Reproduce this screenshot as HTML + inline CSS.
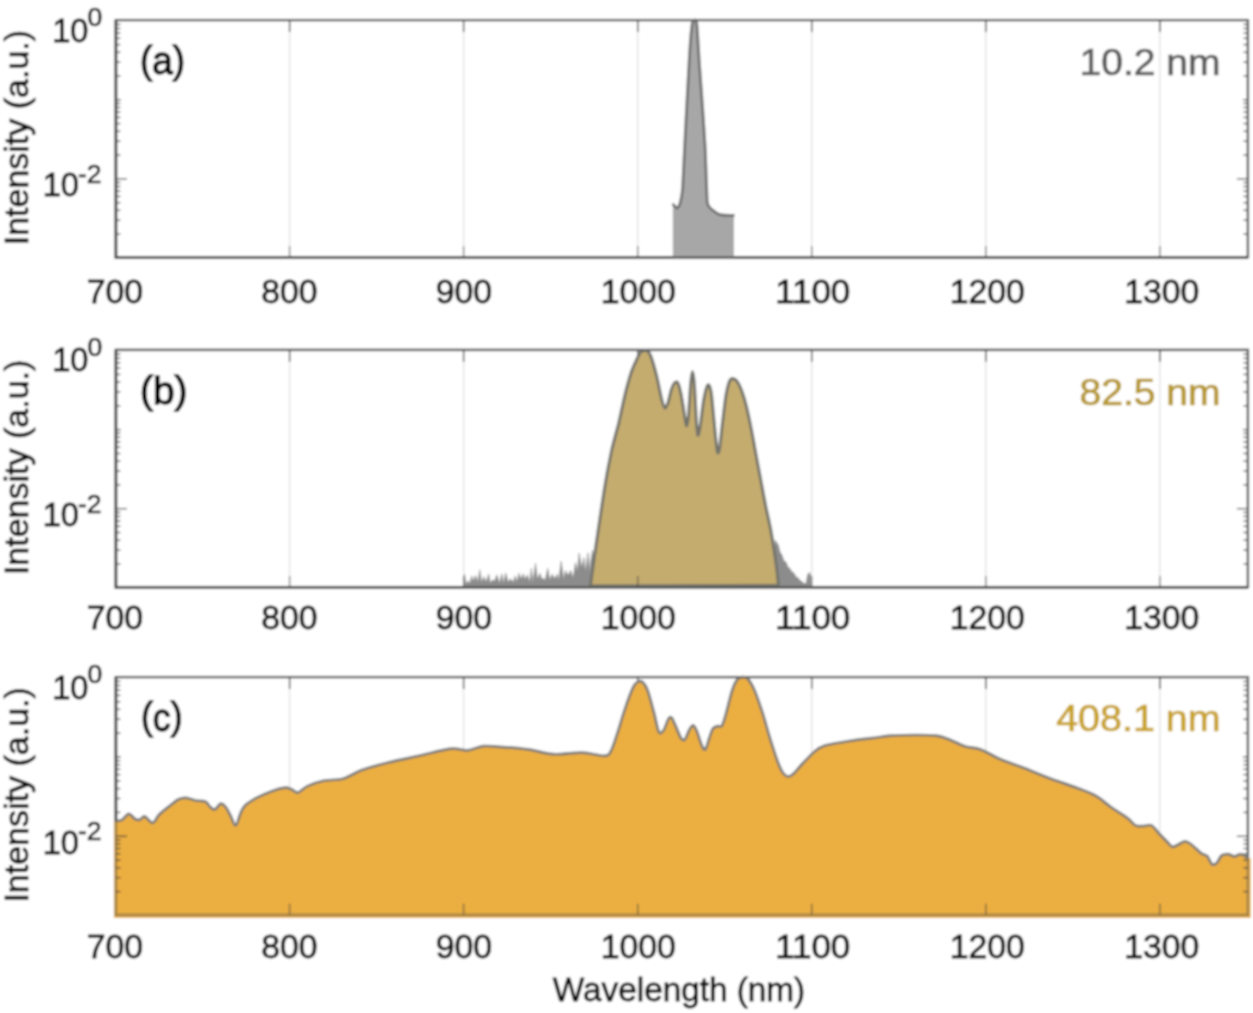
<!DOCTYPE html>
<html lang="en"><head><meta charset="utf-8"><title>Spectra</title>
<style>html,body{margin:0;padding:0;background:#fff}svg{display:block}text{font-family:"Liberation Sans", sans-serif}</style>
</head><body>
<svg width="1253" height="1013" viewBox="0 0 1253 1013">
<defs><filter id="soft" x="0" y="0" width="1253" height="1013" filterUnits="userSpaceOnUse"><feGaussianBlur stdDeviation="1.0"/></filter></defs>
<rect width="1253" height="1013" fill="#fff"/>
<g filter="url(#soft)">
<rect width="1253" height="1013" fill="#fff"/>
<line x1="289.6" y1="20.0" x2="289.6" y2="257.1" stroke="#e0e0e0" stroke-width="1.3"/>
<line x1="289.6" y1="20.0" x2="289.6" y2="32.0" stroke="#404040" stroke-width="1.4"/>
<line x1="463.6" y1="20.0" x2="463.6" y2="257.1" stroke="#e0e0e0" stroke-width="1.3"/>
<line x1="463.6" y1="20.0" x2="463.6" y2="32.0" stroke="#404040" stroke-width="1.4"/>
<line x1="637.7" y1="20.0" x2="637.7" y2="257.1" stroke="#e0e0e0" stroke-width="1.3"/>
<line x1="637.7" y1="20.0" x2="637.7" y2="32.0" stroke="#404040" stroke-width="1.4"/>
<line x1="811.7" y1="20.0" x2="811.7" y2="257.1" stroke="#e0e0e0" stroke-width="1.3"/>
<line x1="811.7" y1="20.0" x2="811.7" y2="32.0" stroke="#404040" stroke-width="1.4"/>
<line x1="985.8" y1="20.0" x2="985.8" y2="257.1" stroke="#e0e0e0" stroke-width="1.3"/>
<line x1="985.8" y1="20.0" x2="985.8" y2="32.0" stroke="#404040" stroke-width="1.4"/>
<line x1="1159.9" y1="20.0" x2="1159.9" y2="257.1" stroke="#e0e0e0" stroke-width="1.3"/>
<line x1="1159.9" y1="20.0" x2="1159.9" y2="32.0" stroke="#404040" stroke-width="1.4"/>
<rect x="115.9" y="20.0" width="1132.0" height="237.1" fill="none" stroke="#404040" stroke-width="2"/>
<path d="M115.9,20.0 L115.9,257.5 L1247.9,257.5" fill="none" stroke="#303030" stroke-width="2.7" stroke-linejoin="miter"/>
<path d="M673.3,256.8 L673.3,204.6 L675.0,206.6 L676.9,208.2 L678.8,206.2 L680.4,202.0 L681.6,196.0 L682.6,188.0 L684.0,160.0 L686.7,106.7 L689.6,53.3 L692.2,24.0 L694.5,20.2 L696.8,24.0 L699.6,66.7 L702.5,106.7 L705.1,146.7 L706.6,186.7 L707.4,203.0 L709.7,207.5 L713.3,210.6 L717.7,213.7 L722.2,215.0 L733.4,215.5 L733.4,256.8 Z" fill="#a7a7a7" stroke="#9a9a9a" stroke-width="0.8"/>
<path d="M673.3,204.6 C673.5,204.8 674.6,206.2 675.0,206.6 C675.4,207.0 676.5,208.2 676.9,208.2 C677.3,208.2 678.4,206.9 678.8,206.2 C679.2,205.5 680.1,203.2 680.4,202.0 C680.7,200.8 681.3,197.6 681.6,196.0 C681.9,194.4 682.3,192.2 682.6,188.0 C682.9,183.8 683.5,169.5 684.0,160.0 C684.5,150.5 686.0,119.1 686.7,106.7 C687.4,94.3 689.0,62.9 689.6,53.3 C690.2,43.7 691.6,27.9 692.2,24.0 C692.8,20.1 694.0,20.2 694.5,20.2 C695.0,20.2 696.2,18.6 696.8,24.0 C697.4,29.4 698.9,57.1 699.6,66.7 C700.3,76.3 701.9,97.4 702.5,106.7 C703.1,116.0 704.6,137.4 705.1,146.7 C705.6,156.0 706.3,180.1 706.6,186.7 C706.9,193.3 707.0,200.6 707.4,203.0 C707.8,205.4 709.0,206.6 709.7,207.5 C710.4,208.4 712.4,209.9 713.3,210.6 C714.2,211.3 716.7,213.2 717.7,213.7 C718.7,214.2 720.4,214.8 722.2,215.0 C724.0,215.2 732.1,215.4 733.4,215.5" fill="none" stroke="#707070" stroke-width="2.8" stroke-linejoin="round" stroke-linecap="round"/>
<line x1="289.6" y1="257.1" x2="289.6" y2="246.1" stroke="#404040" stroke-width="1.4" stroke-opacity="0.65"/>
<line x1="463.6" y1="257.1" x2="463.6" y2="246.1" stroke="#404040" stroke-width="1.4" stroke-opacity="0.65"/>
<line x1="637.7" y1="257.1" x2="637.7" y2="246.1" stroke="#404040" stroke-width="1.4" stroke-opacity="0.65"/>
<line x1="811.7" y1="257.1" x2="811.7" y2="246.1" stroke="#404040" stroke-width="1.4" stroke-opacity="0.65"/>
<line x1="985.8" y1="257.1" x2="985.8" y2="246.1" stroke="#404040" stroke-width="1.4" stroke-opacity="0.65"/>
<line x1="1159.9" y1="257.1" x2="1159.9" y2="246.1" stroke="#404040" stroke-width="1.4" stroke-opacity="0.65"/>
<line x1="115.9" y1="234.1" x2="120.4" y2="234.1" stroke="#404040" stroke-width="1.5" stroke-opacity="0.75"/>
<line x1="1247.9" y1="234.1" x2="1243.4" y2="234.1" stroke="#404040" stroke-width="1.5" stroke-opacity="0.75"/>
<line x1="115.9" y1="220.2" x2="120.4" y2="220.2" stroke="#404040" stroke-width="1.5" stroke-opacity="0.75"/>
<line x1="1247.9" y1="220.2" x2="1243.4" y2="220.2" stroke="#404040" stroke-width="1.5" stroke-opacity="0.75"/>
<line x1="115.9" y1="210.3" x2="120.4" y2="210.3" stroke="#404040" stroke-width="1.5" stroke-opacity="0.75"/>
<line x1="1247.9" y1="210.3" x2="1243.4" y2="210.3" stroke="#404040" stroke-width="1.5" stroke-opacity="0.75"/>
<line x1="115.9" y1="202.7" x2="120.4" y2="202.7" stroke="#404040" stroke-width="1.5" stroke-opacity="0.75"/>
<line x1="1247.9" y1="202.7" x2="1243.4" y2="202.7" stroke="#404040" stroke-width="1.5" stroke-opacity="0.75"/>
<line x1="115.9" y1="196.4" x2="120.4" y2="196.4" stroke="#404040" stroke-width="1.5" stroke-opacity="0.75"/>
<line x1="1247.9" y1="196.4" x2="1243.4" y2="196.4" stroke="#404040" stroke-width="1.5" stroke-opacity="0.75"/>
<line x1="115.9" y1="191.1" x2="120.4" y2="191.1" stroke="#404040" stroke-width="1.5" stroke-opacity="0.75"/>
<line x1="1247.9" y1="191.1" x2="1243.4" y2="191.1" stroke="#404040" stroke-width="1.5" stroke-opacity="0.75"/>
<line x1="115.9" y1="186.5" x2="120.4" y2="186.5" stroke="#404040" stroke-width="1.5" stroke-opacity="0.75"/>
<line x1="1247.9" y1="186.5" x2="1243.4" y2="186.5" stroke="#404040" stroke-width="1.5" stroke-opacity="0.75"/>
<line x1="115.9" y1="182.5" x2="120.4" y2="182.5" stroke="#404040" stroke-width="1.5" stroke-opacity="0.75"/>
<line x1="1247.9" y1="182.5" x2="1243.4" y2="182.5" stroke="#404040" stroke-width="1.5" stroke-opacity="0.75"/>
<line x1="115.9" y1="178.9" x2="126.9" y2="178.9" stroke="#404040" stroke-width="1.5" stroke-opacity="0.75"/>
<line x1="1247.9" y1="178.9" x2="1236.9" y2="178.9" stroke="#404040" stroke-width="1.5" stroke-opacity="0.75"/>
<line x1="115.9" y1="155.1" x2="120.4" y2="155.1" stroke="#404040" stroke-width="1.5" stroke-opacity="0.75"/>
<line x1="1247.9" y1="155.1" x2="1243.4" y2="155.1" stroke="#404040" stroke-width="1.5" stroke-opacity="0.75"/>
<line x1="115.9" y1="141.2" x2="120.4" y2="141.2" stroke="#404040" stroke-width="1.5" stroke-opacity="0.75"/>
<line x1="1247.9" y1="141.2" x2="1243.4" y2="141.2" stroke="#404040" stroke-width="1.5" stroke-opacity="0.75"/>
<line x1="115.9" y1="131.3" x2="120.4" y2="131.3" stroke="#404040" stroke-width="1.5" stroke-opacity="0.75"/>
<line x1="1247.9" y1="131.3" x2="1243.4" y2="131.3" stroke="#404040" stroke-width="1.5" stroke-opacity="0.75"/>
<line x1="115.9" y1="123.6" x2="120.4" y2="123.6" stroke="#404040" stroke-width="1.5" stroke-opacity="0.75"/>
<line x1="1247.9" y1="123.6" x2="1243.4" y2="123.6" stroke="#404040" stroke-width="1.5" stroke-opacity="0.75"/>
<line x1="115.9" y1="117.4" x2="120.4" y2="117.4" stroke="#404040" stroke-width="1.5" stroke-opacity="0.75"/>
<line x1="1247.9" y1="117.4" x2="1243.4" y2="117.4" stroke="#404040" stroke-width="1.5" stroke-opacity="0.75"/>
<line x1="115.9" y1="112.1" x2="120.4" y2="112.1" stroke="#404040" stroke-width="1.5" stroke-opacity="0.75"/>
<line x1="1247.9" y1="112.1" x2="1243.4" y2="112.1" stroke="#404040" stroke-width="1.5" stroke-opacity="0.75"/>
<line x1="115.9" y1="107.5" x2="120.4" y2="107.5" stroke="#404040" stroke-width="1.5" stroke-opacity="0.75"/>
<line x1="1247.9" y1="107.5" x2="1243.4" y2="107.5" stroke="#404040" stroke-width="1.5" stroke-opacity="0.75"/>
<line x1="115.9" y1="103.4" x2="120.4" y2="103.4" stroke="#404040" stroke-width="1.5" stroke-opacity="0.75"/>
<line x1="1247.9" y1="103.4" x2="1243.4" y2="103.4" stroke="#404040" stroke-width="1.5" stroke-opacity="0.75"/>
<line x1="115.9" y1="99.8" x2="120.9" y2="99.8" stroke="#404040" stroke-width="1.5" stroke-opacity="0.75"/>
<line x1="1247.9" y1="99.8" x2="1242.9" y2="99.8" stroke="#404040" stroke-width="1.5" stroke-opacity="0.75"/>
<line x1="115.9" y1="76.0" x2="120.4" y2="76.0" stroke="#404040" stroke-width="1.5" stroke-opacity="0.75"/>
<line x1="1247.9" y1="76.0" x2="1243.4" y2="76.0" stroke="#404040" stroke-width="1.5" stroke-opacity="0.75"/>
<line x1="115.9" y1="62.1" x2="120.4" y2="62.1" stroke="#404040" stroke-width="1.5" stroke-opacity="0.75"/>
<line x1="1247.9" y1="62.1" x2="1243.4" y2="62.1" stroke="#404040" stroke-width="1.5" stroke-opacity="0.75"/>
<line x1="115.9" y1="52.3" x2="120.4" y2="52.3" stroke="#404040" stroke-width="1.5" stroke-opacity="0.75"/>
<line x1="1247.9" y1="52.3" x2="1243.4" y2="52.3" stroke="#404040" stroke-width="1.5" stroke-opacity="0.75"/>
<line x1="115.9" y1="44.6" x2="120.4" y2="44.6" stroke="#404040" stroke-width="1.5" stroke-opacity="0.75"/>
<line x1="1247.9" y1="44.6" x2="1243.4" y2="44.6" stroke="#404040" stroke-width="1.5" stroke-opacity="0.75"/>
<line x1="115.9" y1="38.3" x2="120.4" y2="38.3" stroke="#404040" stroke-width="1.5" stroke-opacity="0.75"/>
<line x1="1247.9" y1="38.3" x2="1243.4" y2="38.3" stroke="#404040" stroke-width="1.5" stroke-opacity="0.75"/>
<line x1="115.9" y1="33.0" x2="120.4" y2="33.0" stroke="#404040" stroke-width="1.5" stroke-opacity="0.75"/>
<line x1="1247.9" y1="33.0" x2="1243.4" y2="33.0" stroke="#404040" stroke-width="1.5" stroke-opacity="0.75"/>
<line x1="115.9" y1="28.5" x2="120.4" y2="28.5" stroke="#404040" stroke-width="1.5" stroke-opacity="0.75"/>
<line x1="1247.9" y1="28.5" x2="1243.4" y2="28.5" stroke="#404040" stroke-width="1.5" stroke-opacity="0.75"/>
<line x1="115.9" y1="24.4" x2="120.4" y2="24.4" stroke="#404040" stroke-width="1.5" stroke-opacity="0.75"/>
<line x1="1247.9" y1="24.4" x2="1243.4" y2="24.4" stroke="#404040" stroke-width="1.5" stroke-opacity="0.75"/>
<rect x="115.9" y="20.2" width="1132.0" height="237.1" fill="none" stroke="#5a5a5a" stroke-width="2.6" stroke-opacity="0.5"/>
<text x="86.7" y="303.1" font-size="32.6" textLength="56.3" lengthAdjust="spacingAndGlyphs" fill="#0a0a0a" stroke="#0a0a0a" stroke-width="0.85">700</text>
<text x="261.2" y="303.1" font-size="32.6" textLength="56.3" lengthAdjust="spacingAndGlyphs" fill="#0a0a0a" stroke="#0a0a0a" stroke-width="0.85">800</text>
<text x="435.7" y="303.1" font-size="32.6" textLength="56.3" lengthAdjust="spacingAndGlyphs" fill="#0a0a0a" stroke="#0a0a0a" stroke-width="0.85">900</text>
<text x="600.7" y="303.1" font-size="32.6" textLength="75.1" lengthAdjust="spacingAndGlyphs" fill="#0a0a0a" stroke="#0a0a0a" stroke-width="0.85">1000</text>
<text x="775.2" y="303.1" font-size="32.6" textLength="75.1" lengthAdjust="spacingAndGlyphs" fill="#0a0a0a" stroke="#0a0a0a" stroke-width="0.85">1100</text>
<text x="949.7" y="303.1" font-size="32.6" textLength="75.1" lengthAdjust="spacingAndGlyphs" fill="#0a0a0a" stroke="#0a0a0a" stroke-width="0.85">1200</text>
<text x="1124.2" y="303.1" font-size="32.6" textLength="75.1" lengthAdjust="spacingAndGlyphs" fill="#0a0a0a" stroke="#0a0a0a" stroke-width="0.85">1300</text>
<text x="88.5" y="41.5" font-size="32.6" text-anchor="end" fill="#0a0a0a" stroke="#0a0a0a" stroke-width="0.85">10</text>
<text x="87.5" y="25.7" font-size="26.5" text-anchor="start" fill="#0a0a0a" stroke="#0a0a0a" stroke-width="0.7">0</text>
<text x="79" y="196.4" font-size="32.6" text-anchor="end" fill="#0a0a0a" stroke="#0a0a0a" stroke-width="0.85">10</text>
<text x="78" y="182.7" font-size="26.5" text-anchor="start" fill="#0a0a0a" stroke="#0a0a0a" stroke-width="0.7">-2</text>
<text transform="translate(28.2,137.6) rotate(-90)" font-size="34" text-anchor="middle" fill="#0a0a0a" stroke="#0a0a0a" stroke-width="0.8">Intensity (a.u.)</text>
<text x="140" y="72.5" font-size="38.3" textLength="45" lengthAdjust="spacingAndGlyphs" fill="#000" stroke="#000" stroke-width="1.35">(<tspan dy="1.7">a</tspan><tspan dy="-1.7">)</tspan></text>
<text x="1079.5" y="74.5" font-size="36" textLength="141.0" lengthAdjust="spacingAndGlyphs" fill="#5c5c5c" stroke="#5c5c5c" stroke-width="0.7">10.2 nm</text>
<line x1="289.6" y1="349.8" x2="289.6" y2="587.0" stroke="#e0e0e0" stroke-width="1.3"/>
<line x1="289.6" y1="349.8" x2="289.6" y2="361.8" stroke="#404040" stroke-width="1.4"/>
<line x1="463.6" y1="349.8" x2="463.6" y2="587.0" stroke="#e0e0e0" stroke-width="1.3"/>
<line x1="463.6" y1="349.8" x2="463.6" y2="361.8" stroke="#404040" stroke-width="1.4"/>
<line x1="637.7" y1="349.8" x2="637.7" y2="587.0" stroke="#e0e0e0" stroke-width="1.3"/>
<line x1="637.7" y1="349.8" x2="637.7" y2="361.8" stroke="#404040" stroke-width="1.4"/>
<line x1="811.7" y1="349.8" x2="811.7" y2="587.0" stroke="#e0e0e0" stroke-width="1.3"/>
<line x1="811.7" y1="349.8" x2="811.7" y2="361.8" stroke="#404040" stroke-width="1.4"/>
<line x1="985.8" y1="349.8" x2="985.8" y2="587.0" stroke="#e0e0e0" stroke-width="1.3"/>
<line x1="985.8" y1="349.8" x2="985.8" y2="361.8" stroke="#404040" stroke-width="1.4"/>
<line x1="1159.9" y1="349.8" x2="1159.9" y2="587.0" stroke="#e0e0e0" stroke-width="1.3"/>
<line x1="1159.9" y1="349.8" x2="1159.9" y2="361.8" stroke="#404040" stroke-width="1.4"/>
<rect x="115.9" y="349.8" width="1132.0" height="237.2" fill="none" stroke="#404040" stroke-width="2"/>
<path d="M115.9,349.8 L115.9,587.4 L1247.9,587.4" fill="none" stroke="#303030" stroke-width="2.7" stroke-linejoin="miter"/>
<path d="M464.5,586.6 L464.5,573.9 L466.1,583.9 L468.2,580.7 L469.8,583.6 L471.6,575.9 L473.5,581.2 L475.4,575.3 L477.9,581.8 L479.8,569.7 L481.6,582.8 L483.8,576.6 L486.1,582.0 L488.7,573.9 L490.3,583.2 L492.4,579.8 L494.6,581.1 L496.8,574.7 L499.4,583.3 L501.8,573.8 L503.6,583.4 L505.7,572.9 L508.1,581.9 L510.6,578.7 L513.2,582.2 L515.2,575.8 L516.9,582.3 L519.0,573.2 L521.0,579.3 L523.3,573.7 L524.8,579.5 L527.3,574.8 L529.6,582.2 L531.3,568.2 L532.9,582.9 L535.5,563.1 L537.4,579.2 L540.1,573.3 L541.7,579.2 L543.4,578.1 L545.1,580.4 L547.8,568.3 L549.7,580.3 L552.1,574.2 L554.8,578.8 L557.2,574.1 L558.7,580.6 L561.1,561.2 L563.8,579.7 L565.5,570.5 L568.1,575.5 L570.6,570.3 L573.0,578.0 L575.5,562.6 L577.4,572.0 L579.1,553.0 L581.6,568.0 L583.9,557.5 L585.4,571.6 L588.0,552.8 L589.8,573.8 L590.5,562.0 L592.5,550.0 L594.5,586.6 Z" fill="#8c8c8c" stroke="#8c8c8c" stroke-width="0.6" stroke-linejoin="round"/>
<path d="M775.0,586.6 L775.0,540.0 L778.4,545.0 L780.0,552.0 L782.0,555.0 L784.0,561.0 L786.0,562.0 L788.0,567.0 L790.0,568.5 L792.0,572.0 L794.0,573.0 L796.0,577.0 L798.0,577.5 L800.0,580.5 L802.0,581.5 L804.0,583.5 L806.0,583.5 L807.5,575.0 L809.0,572.5 L810.3,574.0 L810.8,586.6 Z" fill="#8c8c8c" stroke="#8c8c8c" stroke-width="0.6" stroke-linejoin="round"/>
<path d="M590.4,586.0 C591.0,581.9 593.9,560.0 594.8,553.5 C595.7,547.0 596.4,542.4 597.6,534.3 C598.8,526.2 602.6,500.1 604.3,489.6 C606.0,479.1 609.6,459.8 611.4,451.3 C613.2,442.8 617.1,429.9 618.8,422.6 C620.5,415.3 623.6,400.3 625.2,393.8 C626.8,387.3 630.1,375.7 631.5,371.5 C632.9,367.3 635.2,362.6 636.3,360.3 C637.4,358.0 639.0,354.4 639.8,353.2 C640.6,352.0 642.2,351.1 643.0,350.8 C643.8,350.5 645.2,350.4 646.0,350.6 C646.8,350.8 648.3,351.4 649.1,352.6 C649.9,353.8 651.3,357.1 652.3,360.3 C653.3,363.5 655.9,372.8 657.1,377.9 C658.3,383.0 660.9,396.4 661.9,400.2 C662.9,404.0 664.3,408.0 665.1,408.2 C665.9,408.4 667.5,404.2 668.3,401.8 C669.1,399.4 670.6,391.5 671.4,389.1 C672.2,386.7 673.8,383.5 674.6,382.7 C675.4,381.9 677.0,381.3 677.8,382.7 C678.6,384.1 680.2,390.0 681.0,393.8 C681.8,397.6 683.5,408.9 684.2,413.0 C684.9,417.1 685.9,425.4 686.4,425.8 C686.9,426.2 687.9,421.5 688.4,416.2 C688.9,410.9 690.1,390.0 690.6,384.3 C691.1,378.6 692.0,371.5 692.5,371.5 C693.0,371.5 693.9,378.2 694.4,384.3 C694.9,390.4 695.9,412.9 696.3,419.4 C696.7,425.9 697.4,434.5 697.9,435.3 C698.4,436.1 699.5,430.0 700.2,425.8 C700.9,421.6 702.6,406.7 703.4,401.8 C704.2,396.9 705.9,389.6 706.6,387.5 C707.3,385.4 708.2,384.1 708.8,384.9 C709.4,385.7 710.8,389.4 711.4,393.8 C712.0,398.2 713.3,413.3 713.9,419.4 C714.5,425.5 715.6,437.5 716.1,441.7 C716.6,445.9 717.3,452.1 717.7,452.9 C718.1,453.7 719.0,451.9 719.6,448.1 C720.2,444.3 721.7,429.1 722.5,422.6 C723.3,416.1 724.9,402.1 725.7,397.0 C726.5,391.9 728.1,385.0 728.9,382.7 C729.7,380.4 731.1,378.7 732.1,378.5 C733.1,378.3 735.7,379.6 736.9,381.1 C738.1,382.6 740.5,387.5 741.7,390.7 C742.9,393.9 745.3,401.7 746.5,406.6 C747.7,411.5 750.1,422.9 751.3,429.0 C752.5,435.1 754.8,448.0 756.0,454.5 C757.2,461.0 759.6,473.5 760.8,480.0 C762.0,486.5 764.4,499.5 765.6,505.6 C766.8,511.7 769.4,522.6 770.4,527.9 C771.4,533.2 772.8,541.8 773.6,547.1 C774.4,552.4 776.2,564.5 776.8,569.4 C777.4,574.3 778.2,583.4 778.4,585.4 Z" fill="#c4ac6e" stroke="#73736c" stroke-width="3" stroke-linejoin="round"/>
<line x1="289.6" y1="587.0" x2="289.6" y2="576.0" stroke="#404040" stroke-width="1.4" stroke-opacity="0.65"/>
<line x1="463.6" y1="587.0" x2="463.6" y2="576.0" stroke="#404040" stroke-width="1.4" stroke-opacity="0.65"/>
<line x1="637.7" y1="587.0" x2="637.7" y2="576.0" stroke="#404040" stroke-width="1.4" stroke-opacity="0.65"/>
<line x1="811.7" y1="587.0" x2="811.7" y2="576.0" stroke="#404040" stroke-width="1.4" stroke-opacity="0.65"/>
<line x1="985.8" y1="587.0" x2="985.8" y2="576.0" stroke="#404040" stroke-width="1.4" stroke-opacity="0.65"/>
<line x1="1159.9" y1="587.0" x2="1159.9" y2="576.0" stroke="#404040" stroke-width="1.4" stroke-opacity="0.65"/>
<line x1="115.9" y1="564.0" x2="120.4" y2="564.0" stroke="#404040" stroke-width="1.5" stroke-opacity="0.75"/>
<line x1="1247.9" y1="564.0" x2="1243.4" y2="564.0" stroke="#404040" stroke-width="1.5" stroke-opacity="0.75"/>
<line x1="115.9" y1="550.1" x2="120.4" y2="550.1" stroke="#404040" stroke-width="1.5" stroke-opacity="0.75"/>
<line x1="1247.9" y1="550.1" x2="1243.4" y2="550.1" stroke="#404040" stroke-width="1.5" stroke-opacity="0.75"/>
<line x1="115.9" y1="540.2" x2="120.4" y2="540.2" stroke="#404040" stroke-width="1.5" stroke-opacity="0.75"/>
<line x1="1247.9" y1="540.2" x2="1243.4" y2="540.2" stroke="#404040" stroke-width="1.5" stroke-opacity="0.75"/>
<line x1="115.9" y1="532.5" x2="120.4" y2="532.5" stroke="#404040" stroke-width="1.5" stroke-opacity="0.75"/>
<line x1="1247.9" y1="532.5" x2="1243.4" y2="532.5" stroke="#404040" stroke-width="1.5" stroke-opacity="0.75"/>
<line x1="115.9" y1="526.3" x2="120.4" y2="526.3" stroke="#404040" stroke-width="1.5" stroke-opacity="0.75"/>
<line x1="1247.9" y1="526.3" x2="1243.4" y2="526.3" stroke="#404040" stroke-width="1.5" stroke-opacity="0.75"/>
<line x1="115.9" y1="521.0" x2="120.4" y2="521.0" stroke="#404040" stroke-width="1.5" stroke-opacity="0.75"/>
<line x1="1247.9" y1="521.0" x2="1243.4" y2="521.0" stroke="#404040" stroke-width="1.5" stroke-opacity="0.75"/>
<line x1="115.9" y1="516.4" x2="120.4" y2="516.4" stroke="#404040" stroke-width="1.5" stroke-opacity="0.75"/>
<line x1="1247.9" y1="516.4" x2="1243.4" y2="516.4" stroke="#404040" stroke-width="1.5" stroke-opacity="0.75"/>
<line x1="115.9" y1="512.4" x2="120.4" y2="512.4" stroke="#404040" stroke-width="1.5" stroke-opacity="0.75"/>
<line x1="1247.9" y1="512.4" x2="1243.4" y2="512.4" stroke="#404040" stroke-width="1.5" stroke-opacity="0.75"/>
<line x1="115.9" y1="508.7" x2="126.9" y2="508.7" stroke="#404040" stroke-width="1.5" stroke-opacity="0.75"/>
<line x1="1247.9" y1="508.7" x2="1236.9" y2="508.7" stroke="#404040" stroke-width="1.5" stroke-opacity="0.75"/>
<line x1="115.9" y1="484.9" x2="120.4" y2="484.9" stroke="#404040" stroke-width="1.5" stroke-opacity="0.75"/>
<line x1="1247.9" y1="484.9" x2="1243.4" y2="484.9" stroke="#404040" stroke-width="1.5" stroke-opacity="0.75"/>
<line x1="115.9" y1="471.0" x2="120.4" y2="471.0" stroke="#404040" stroke-width="1.5" stroke-opacity="0.75"/>
<line x1="1247.9" y1="471.0" x2="1243.4" y2="471.0" stroke="#404040" stroke-width="1.5" stroke-opacity="0.75"/>
<line x1="115.9" y1="461.1" x2="120.4" y2="461.1" stroke="#404040" stroke-width="1.5" stroke-opacity="0.75"/>
<line x1="1247.9" y1="461.1" x2="1243.4" y2="461.1" stroke="#404040" stroke-width="1.5" stroke-opacity="0.75"/>
<line x1="115.9" y1="453.5" x2="120.4" y2="453.5" stroke="#404040" stroke-width="1.5" stroke-opacity="0.75"/>
<line x1="1247.9" y1="453.5" x2="1243.4" y2="453.5" stroke="#404040" stroke-width="1.5" stroke-opacity="0.75"/>
<line x1="115.9" y1="447.2" x2="120.4" y2="447.2" stroke="#404040" stroke-width="1.5" stroke-opacity="0.75"/>
<line x1="1247.9" y1="447.2" x2="1243.4" y2="447.2" stroke="#404040" stroke-width="1.5" stroke-opacity="0.75"/>
<line x1="115.9" y1="441.9" x2="120.4" y2="441.9" stroke="#404040" stroke-width="1.5" stroke-opacity="0.75"/>
<line x1="1247.9" y1="441.9" x2="1243.4" y2="441.9" stroke="#404040" stroke-width="1.5" stroke-opacity="0.75"/>
<line x1="115.9" y1="437.3" x2="120.4" y2="437.3" stroke="#404040" stroke-width="1.5" stroke-opacity="0.75"/>
<line x1="1247.9" y1="437.3" x2="1243.4" y2="437.3" stroke="#404040" stroke-width="1.5" stroke-opacity="0.75"/>
<line x1="115.9" y1="433.3" x2="120.4" y2="433.3" stroke="#404040" stroke-width="1.5" stroke-opacity="0.75"/>
<line x1="1247.9" y1="433.3" x2="1243.4" y2="433.3" stroke="#404040" stroke-width="1.5" stroke-opacity="0.75"/>
<line x1="115.9" y1="429.7" x2="120.9" y2="429.7" stroke="#404040" stroke-width="1.5" stroke-opacity="0.75"/>
<line x1="1247.9" y1="429.7" x2="1242.9" y2="429.7" stroke="#404040" stroke-width="1.5" stroke-opacity="0.75"/>
<line x1="115.9" y1="405.9" x2="120.4" y2="405.9" stroke="#404040" stroke-width="1.5" stroke-opacity="0.75"/>
<line x1="1247.9" y1="405.9" x2="1243.4" y2="405.9" stroke="#404040" stroke-width="1.5" stroke-opacity="0.75"/>
<line x1="115.9" y1="391.9" x2="120.4" y2="391.9" stroke="#404040" stroke-width="1.5" stroke-opacity="0.75"/>
<line x1="1247.9" y1="391.9" x2="1243.4" y2="391.9" stroke="#404040" stroke-width="1.5" stroke-opacity="0.75"/>
<line x1="115.9" y1="382.1" x2="120.4" y2="382.1" stroke="#404040" stroke-width="1.5" stroke-opacity="0.75"/>
<line x1="1247.9" y1="382.1" x2="1243.4" y2="382.1" stroke="#404040" stroke-width="1.5" stroke-opacity="0.75"/>
<line x1="115.9" y1="374.4" x2="120.4" y2="374.4" stroke="#404040" stroke-width="1.5" stroke-opacity="0.75"/>
<line x1="1247.9" y1="374.4" x2="1243.4" y2="374.4" stroke="#404040" stroke-width="1.5" stroke-opacity="0.75"/>
<line x1="115.9" y1="368.1" x2="120.4" y2="368.1" stroke="#404040" stroke-width="1.5" stroke-opacity="0.75"/>
<line x1="1247.9" y1="368.1" x2="1243.4" y2="368.1" stroke="#404040" stroke-width="1.5" stroke-opacity="0.75"/>
<line x1="115.9" y1="362.8" x2="120.4" y2="362.8" stroke="#404040" stroke-width="1.5" stroke-opacity="0.75"/>
<line x1="1247.9" y1="362.8" x2="1243.4" y2="362.8" stroke="#404040" stroke-width="1.5" stroke-opacity="0.75"/>
<line x1="115.9" y1="358.3" x2="120.4" y2="358.3" stroke="#404040" stroke-width="1.5" stroke-opacity="0.75"/>
<line x1="1247.9" y1="358.3" x2="1243.4" y2="358.3" stroke="#404040" stroke-width="1.5" stroke-opacity="0.75"/>
<line x1="115.9" y1="354.2" x2="120.4" y2="354.2" stroke="#404040" stroke-width="1.5" stroke-opacity="0.75"/>
<line x1="1247.9" y1="354.2" x2="1243.4" y2="354.2" stroke="#404040" stroke-width="1.5" stroke-opacity="0.75"/>
<rect x="115.9" y="350.0" width="1132.0" height="237.2" fill="none" stroke="#5a5a5a" stroke-width="2.6" stroke-opacity="0.5"/>
<text x="86.7" y="629.2" font-size="32.6" textLength="56.3" lengthAdjust="spacingAndGlyphs" fill="#0a0a0a" stroke="#0a0a0a" stroke-width="0.85">700</text>
<text x="261.2" y="629.2" font-size="32.6" textLength="56.3" lengthAdjust="spacingAndGlyphs" fill="#0a0a0a" stroke="#0a0a0a" stroke-width="0.85">800</text>
<text x="435.7" y="629.2" font-size="32.6" textLength="56.3" lengthAdjust="spacingAndGlyphs" fill="#0a0a0a" stroke="#0a0a0a" stroke-width="0.85">900</text>
<text x="600.7" y="629.2" font-size="32.6" textLength="75.1" lengthAdjust="spacingAndGlyphs" fill="#0a0a0a" stroke="#0a0a0a" stroke-width="0.85">1000</text>
<text x="775.2" y="629.2" font-size="32.6" textLength="75.1" lengthAdjust="spacingAndGlyphs" fill="#0a0a0a" stroke="#0a0a0a" stroke-width="0.85">1100</text>
<text x="949.7" y="629.2" font-size="32.6" textLength="75.1" lengthAdjust="spacingAndGlyphs" fill="#0a0a0a" stroke="#0a0a0a" stroke-width="0.85">1200</text>
<text x="1124.2" y="629.2" font-size="32.6" textLength="75.1" lengthAdjust="spacingAndGlyphs" fill="#0a0a0a" stroke="#0a0a0a" stroke-width="0.85">1300</text>
<text x="88.5" y="371.3" font-size="32.6" text-anchor="end" fill="#0a0a0a" stroke="#0a0a0a" stroke-width="0.85">10</text>
<text x="87.5" y="355.5" font-size="26.5" text-anchor="start" fill="#0a0a0a" stroke="#0a0a0a" stroke-width="0.7">0</text>
<text x="79" y="526.2" font-size="32.6" text-anchor="end" fill="#0a0a0a" stroke="#0a0a0a" stroke-width="0.85">10</text>
<text x="78" y="512.5" font-size="26.5" text-anchor="start" fill="#0a0a0a" stroke="#0a0a0a" stroke-width="0.7">-2</text>
<text transform="translate(28.2,467.4) rotate(-90)" font-size="34" text-anchor="middle" fill="#0a0a0a" stroke="#0a0a0a" stroke-width="0.8">Intensity (a.u.)</text>
<text x="140" y="402.5" font-size="38.3" textLength="47.5" lengthAdjust="spacingAndGlyphs" fill="#000" stroke="#000" stroke-width="1.35">(<tspan dy="1.7">b</tspan><tspan dy="-1.7">)</tspan></text>
<text x="1079.5" y="404.5" font-size="36" textLength="141.0" lengthAdjust="spacingAndGlyphs" fill="#b6972a" stroke="#b6972a" stroke-width="0.7">82.5 nm</text>
<line x1="289.6" y1="677.0" x2="289.6" y2="914.7" stroke="#e0e0e0" stroke-width="1.3"/>
<line x1="289.6" y1="677.0" x2="289.6" y2="689.0" stroke="#404040" stroke-width="1.4"/>
<line x1="463.6" y1="677.0" x2="463.6" y2="914.7" stroke="#e0e0e0" stroke-width="1.3"/>
<line x1="463.6" y1="677.0" x2="463.6" y2="689.0" stroke="#404040" stroke-width="1.4"/>
<line x1="637.7" y1="677.0" x2="637.7" y2="914.7" stroke="#e0e0e0" stroke-width="1.3"/>
<line x1="637.7" y1="677.0" x2="637.7" y2="689.0" stroke="#404040" stroke-width="1.4"/>
<line x1="811.7" y1="677.0" x2="811.7" y2="914.7" stroke="#e0e0e0" stroke-width="1.3"/>
<line x1="811.7" y1="677.0" x2="811.7" y2="689.0" stroke="#404040" stroke-width="1.4"/>
<line x1="985.8" y1="677.0" x2="985.8" y2="914.7" stroke="#e0e0e0" stroke-width="1.3"/>
<line x1="985.8" y1="677.0" x2="985.8" y2="689.0" stroke="#404040" stroke-width="1.4"/>
<line x1="1159.9" y1="677.0" x2="1159.9" y2="914.7" stroke="#e0e0e0" stroke-width="1.3"/>
<line x1="1159.9" y1="677.0" x2="1159.9" y2="689.0" stroke="#404040" stroke-width="1.4"/>
<rect x="115.9" y="677.0" width="1132.0" height="237.7" fill="none" stroke="#404040" stroke-width="2"/>
<path d="M115.9,677.0 L115.9,915.1 L1247.9,915.1" fill="none" stroke="#303030" stroke-width="2.7" stroke-linejoin="miter"/>
<path d="M113.9,821.2 L115.9,821.2 C117.0,820.9 120.2,820.8 122.3,819.6 C124.4,818.4 126.6,814.0 128.7,813.9 C130.8,813.8 133.2,818.0 135.1,819.0 C137.0,820.0 138.3,820.0 139.9,819.6 C141.5,819.2 142.6,815.9 144.7,816.4 C146.8,816.9 150.3,823.1 152.7,822.8 C155.1,822.5 156.3,817.5 159.0,814.8 C161.7,812.1 165.4,809.3 168.6,806.8 C171.8,804.2 175.3,801.0 178.2,799.5 C181.1,798.0 183.3,797.7 186.2,797.9 C189.1,798.1 192.6,799.9 195.8,800.5 C199.0,801.1 202.9,800.4 205.3,801.4 C207.7,802.4 208.5,805.5 210.1,806.8 C211.7,808.1 213.1,809.9 214.9,809.4 C216.7,808.9 218.8,804.0 220.7,803.7 C222.6,803.4 224.4,805.4 226.1,807.5 C227.8,809.6 229.3,813.4 230.9,816.4 C232.5,819.4 234.1,825.9 235.7,825.4 C237.3,824.9 238.9,816.6 240.5,813.2 C242.1,809.9 242.7,807.8 245.3,805.3 C248.0,802.8 251.9,800.3 256.4,797.9 C260.9,795.5 267.6,792.6 272.4,790.9 C277.2,789.2 282.0,788.0 285.2,787.7 C288.4,787.4 289.4,788.5 291.5,789.3 C293.6,790.1 295.2,793.0 297.9,792.5 C300.6,792.0 303.2,788.1 307.5,786.1 C311.8,784.1 317.6,781.9 323.5,780.7 C329.4,779.5 336.2,780.6 342.6,778.8 C349.0,777.0 354.4,772.8 361.8,770.1 C369.2,767.4 377.7,765.2 387.3,762.8 C396.9,760.4 408.6,758.1 419.2,755.8 C429.8,753.4 443.2,749.6 451.2,748.7 C459.2,747.8 461.8,750.7 467.1,750.3 C472.4,749.9 477.8,746.8 483.1,746.2 C488.5,745.6 491.7,746.3 499.2,746.8 C506.7,747.3 518.9,748.2 527.9,749.4 C536.9,750.6 544.3,753.7 553.4,754.2 C562.5,754.7 573.7,752.3 582.2,752.6 C590.7,752.9 599.7,756.1 604.5,755.8 C609.3,755.5 608.8,754.7 610.9,751.0 C613.0,747.3 614.9,740.6 617.3,733.4 C619.7,726.2 622.6,715.6 625.3,707.9 C627.9,700.2 631.1,691.5 633.2,687.1 C635.3,682.7 636.4,682.5 638.0,681.7 C639.6,680.9 641.2,680.9 642.8,682.3 C644.4,683.7 645.7,685.2 647.6,690.3 C649.5,695.4 652.1,705.8 654.0,712.7 C655.9,719.6 657.2,728.9 658.8,731.8 C660.4,734.7 662.0,732.3 663.6,730.2 C665.2,728.1 667.0,721.2 668.3,719.1 C669.6,717.0 670.3,716.5 671.5,717.5 C672.7,718.5 673.8,721.9 675.4,725.4 C677.0,728.9 679.5,735.9 681.1,738.2 C682.7,740.5 683.7,740.5 685.0,739.2 C686.3,737.9 687.7,732.5 689.1,730.2 C690.5,727.9 691.9,725.1 693.2,725.4 C694.5,725.7 695.7,728.4 697.1,731.8 C698.5,735.2 700.5,742.7 701.9,745.6 C703.3,748.5 704.2,750.6 705.4,749.4 C706.6,748.2 707.9,741.7 709.2,738.2 C710.5,734.7 711.6,730.6 713.0,728.6 C714.4,726.6 716.3,726.6 717.8,726.1 C719.3,725.6 720.7,727.4 722.0,725.4 C723.3,723.4 724.1,720.1 725.8,714.3 C727.5,708.4 730.3,696.0 732.2,690.3 C734.1,684.5 735.4,682.0 737.0,679.8 C738.6,677.6 740.0,677.4 741.8,677.2 C743.5,677.0 745.4,676.3 747.5,678.5 C749.6,680.7 752.0,684.6 754.5,690.3 C757.0,696.0 759.8,704.5 762.5,712.7 C765.2,721.0 767.8,731.3 770.5,739.8 C773.2,748.3 776.4,758.2 778.5,763.8 C780.6,769.4 781.7,771.2 783.3,773.3 C784.9,775.4 786.5,776.3 788.1,776.5 C789.7,776.7 790.4,776.4 792.8,774.3 C795.2,772.2 798.7,767.7 802.4,763.8 C806.1,759.9 811.5,754.0 815.2,751.0 C818.9,748.0 821.1,746.9 824.8,745.6 C828.5,744.3 832.2,744.0 837.5,743.0 C842.8,742.0 850.9,740.6 856.7,739.8 C862.5,739.0 866.4,738.9 872.2,738.2 C878.0,737.5 883.9,736.2 891.3,735.7 C898.7,735.2 909.3,735.0 916.8,735.0 C924.2,735.0 930.7,735.0 936.0,735.7 C941.3,736.4 944.0,737.5 948.8,739.2 C953.6,741.0 959.4,744.5 964.7,746.2 C970.0,747.9 974.9,747.3 980.7,749.4 C986.6,751.5 992.3,755.8 999.8,759.0 C1007.2,762.2 1016.9,765.2 1025.4,768.5 C1033.9,771.8 1042.4,775.6 1050.9,778.8 C1059.4,782.0 1069.0,784.9 1076.5,787.7 C1084.0,790.5 1089.8,792.4 1095.6,795.7 C1101.4,799.0 1106.3,803.8 1111.6,807.5 C1116.9,811.2 1123.5,815.0 1127.5,818.0 C1131.5,821.0 1132.8,824.1 1135.5,825.4 C1138.2,826.7 1140.8,826.0 1143.5,826.0 C1146.2,826.0 1148.8,824.1 1151.5,825.4 C1154.2,826.7 1156.8,831.2 1159.5,834.0 C1162.2,836.8 1165.3,839.9 1167.4,842.0 C1169.5,844.1 1170.6,846.3 1172.2,846.8 C1173.8,847.3 1174.9,846.1 1177.0,845.2 C1179.1,844.3 1182.6,841.4 1185.0,841.3 C1187.4,841.2 1188.7,842.5 1191.4,844.5 C1194.1,846.5 1198.3,851.1 1201.0,853.1 C1203.7,855.1 1205.5,854.4 1207.3,856.3 C1209.1,858.2 1210.5,863.2 1212.1,864.3 C1213.7,865.4 1215.3,864.2 1216.9,862.7 C1218.5,861.2 1219.8,856.8 1221.7,855.4 C1223.6,854.0 1226.0,854.0 1228.1,854.1 C1230.2,854.2 1232.4,856.3 1234.5,856.3 C1236.6,856.3 1238.7,853.8 1240.9,854.1 C1243.1,854.4 1246.7,857.3 1247.9,857.9 L1250.7,857.9 L1250.7,917.9 L113.9,917.9 Z" fill="#ebae3f" stroke="none"/>
<path d="M115.9,821.2 C117.0,820.9 120.2,820.8 122.3,819.6 C124.4,818.4 126.6,814.0 128.7,813.9 C130.8,813.8 133.2,818.0 135.1,819.0 C137.0,820.0 138.3,820.0 139.9,819.6 C141.5,819.2 142.6,815.9 144.7,816.4 C146.8,816.9 150.3,823.1 152.7,822.8 C155.1,822.5 156.3,817.5 159.0,814.8 C161.7,812.1 165.4,809.3 168.6,806.8 C171.8,804.2 175.3,801.0 178.2,799.5 C181.1,798.0 183.3,797.7 186.2,797.9 C189.1,798.1 192.6,799.9 195.8,800.5 C199.0,801.1 202.9,800.4 205.3,801.4 C207.7,802.4 208.5,805.5 210.1,806.8 C211.7,808.1 213.1,809.9 214.9,809.4 C216.7,808.9 218.8,804.0 220.7,803.7 C222.6,803.4 224.4,805.4 226.1,807.5 C227.8,809.6 229.3,813.4 230.9,816.4 C232.5,819.4 234.1,825.9 235.7,825.4 C237.3,824.9 238.9,816.6 240.5,813.2 C242.1,809.9 242.7,807.8 245.3,805.3 C248.0,802.8 251.9,800.3 256.4,797.9 C260.9,795.5 267.6,792.6 272.4,790.9 C277.2,789.2 282.0,788.0 285.2,787.7 C288.4,787.4 289.4,788.5 291.5,789.3 C293.6,790.1 295.2,793.0 297.9,792.5 C300.6,792.0 303.2,788.1 307.5,786.1 C311.8,784.1 317.6,781.9 323.5,780.7 C329.4,779.5 336.2,780.6 342.6,778.8 C349.0,777.0 354.4,772.8 361.8,770.1 C369.2,767.4 377.7,765.2 387.3,762.8 C396.9,760.4 408.6,758.1 419.2,755.8 C429.8,753.4 443.2,749.6 451.2,748.7 C459.2,747.8 461.8,750.7 467.1,750.3 C472.4,749.9 477.8,746.8 483.1,746.2 C488.5,745.6 491.7,746.3 499.2,746.8 C506.7,747.3 518.9,748.2 527.9,749.4 C536.9,750.6 544.3,753.7 553.4,754.2 C562.5,754.7 573.7,752.3 582.2,752.6 C590.7,752.9 599.7,756.1 604.5,755.8 C609.3,755.5 608.8,754.7 610.9,751.0 C613.0,747.3 614.9,740.6 617.3,733.4 C619.7,726.2 622.6,715.6 625.3,707.9 C627.9,700.2 631.1,691.5 633.2,687.1 C635.3,682.7 636.4,682.5 638.0,681.7 C639.6,680.9 641.2,680.9 642.8,682.3 C644.4,683.7 645.7,685.2 647.6,690.3 C649.5,695.4 652.1,705.8 654.0,712.7 C655.9,719.6 657.2,728.9 658.8,731.8 C660.4,734.7 662.0,732.3 663.6,730.2 C665.2,728.1 667.0,721.2 668.3,719.1 C669.6,717.0 670.3,716.5 671.5,717.5 C672.7,718.5 673.8,721.9 675.4,725.4 C677.0,728.9 679.5,735.9 681.1,738.2 C682.7,740.5 683.7,740.5 685.0,739.2 C686.3,737.9 687.7,732.5 689.1,730.2 C690.5,727.9 691.9,725.1 693.2,725.4 C694.5,725.7 695.7,728.4 697.1,731.8 C698.5,735.2 700.5,742.7 701.9,745.6 C703.3,748.5 704.2,750.6 705.4,749.4 C706.6,748.2 707.9,741.7 709.2,738.2 C710.5,734.7 711.6,730.6 713.0,728.6 C714.4,726.6 716.3,726.6 717.8,726.1 C719.3,725.6 720.7,727.4 722.0,725.4 C723.3,723.4 724.1,720.1 725.8,714.3 C727.5,708.4 730.3,696.0 732.2,690.3 C734.1,684.5 735.4,682.0 737.0,679.8 C738.6,677.6 740.0,677.4 741.8,677.2 C743.5,677.0 745.4,676.3 747.5,678.5 C749.6,680.7 752.0,684.6 754.5,690.3 C757.0,696.0 759.8,704.5 762.5,712.7 C765.2,721.0 767.8,731.3 770.5,739.8 C773.2,748.3 776.4,758.2 778.5,763.8 C780.6,769.4 781.7,771.2 783.3,773.3 C784.9,775.4 786.5,776.3 788.1,776.5 C789.7,776.7 790.4,776.4 792.8,774.3 C795.2,772.2 798.7,767.7 802.4,763.8 C806.1,759.9 811.5,754.0 815.2,751.0 C818.9,748.0 821.1,746.9 824.8,745.6 C828.5,744.3 832.2,744.0 837.5,743.0 C842.8,742.0 850.9,740.6 856.7,739.8 C862.5,739.0 866.4,738.9 872.2,738.2 C878.0,737.5 883.9,736.2 891.3,735.7 C898.7,735.2 909.3,735.0 916.8,735.0 C924.2,735.0 930.7,735.0 936.0,735.7 C941.3,736.4 944.0,737.5 948.8,739.2 C953.6,741.0 959.4,744.5 964.7,746.2 C970.0,747.9 974.9,747.3 980.7,749.4 C986.6,751.5 992.3,755.8 999.8,759.0 C1007.2,762.2 1016.9,765.2 1025.4,768.5 C1033.9,771.8 1042.4,775.6 1050.9,778.8 C1059.4,782.0 1069.0,784.9 1076.5,787.7 C1084.0,790.5 1089.8,792.4 1095.6,795.7 C1101.4,799.0 1106.3,803.8 1111.6,807.5 C1116.9,811.2 1123.5,815.0 1127.5,818.0 C1131.5,821.0 1132.8,824.1 1135.5,825.4 C1138.2,826.7 1140.8,826.0 1143.5,826.0 C1146.2,826.0 1148.8,824.1 1151.5,825.4 C1154.2,826.7 1156.8,831.2 1159.5,834.0 C1162.2,836.8 1165.3,839.9 1167.4,842.0 C1169.5,844.1 1170.6,846.3 1172.2,846.8 C1173.8,847.3 1174.9,846.1 1177.0,845.2 C1179.1,844.3 1182.6,841.4 1185.0,841.3 C1187.4,841.2 1188.7,842.5 1191.4,844.5 C1194.1,846.5 1198.3,851.1 1201.0,853.1 C1203.7,855.1 1205.5,854.4 1207.3,856.3 C1209.1,858.2 1210.5,863.2 1212.1,864.3 C1213.7,865.4 1215.3,864.2 1216.9,862.7 C1218.5,861.2 1219.8,856.8 1221.7,855.4 C1223.6,854.0 1226.0,854.0 1228.1,854.1 C1230.2,854.2 1232.4,856.3 1234.5,856.3 C1236.6,856.3 1238.7,853.8 1240.9,854.1 C1243.1,854.4 1246.7,857.3 1247.9,857.9" fill="none" stroke="#7b7a78" stroke-width="2.7" stroke-linejoin="round"/>
<line x1="289.6" y1="914.7" x2="289.6" y2="903.7" stroke="#404040" stroke-width="1.4" stroke-opacity="0.65"/>
<line x1="463.6" y1="914.7" x2="463.6" y2="903.7" stroke="#404040" stroke-width="1.4" stroke-opacity="0.65"/>
<line x1="637.7" y1="914.7" x2="637.7" y2="903.7" stroke="#404040" stroke-width="1.4" stroke-opacity="0.65"/>
<line x1="811.7" y1="914.7" x2="811.7" y2="903.7" stroke="#404040" stroke-width="1.4" stroke-opacity="0.65"/>
<line x1="985.8" y1="914.7" x2="985.8" y2="903.7" stroke="#404040" stroke-width="1.4" stroke-opacity="0.65"/>
<line x1="1159.9" y1="914.7" x2="1159.9" y2="903.7" stroke="#404040" stroke-width="1.4" stroke-opacity="0.65"/>
<line x1="115.9" y1="891.6" x2="120.4" y2="891.6" stroke="#404040" stroke-width="1.5" stroke-opacity="0.75"/>
<line x1="1247.9" y1="891.6" x2="1243.4" y2="891.6" stroke="#404040" stroke-width="1.5" stroke-opacity="0.75"/>
<line x1="115.9" y1="877.7" x2="120.4" y2="877.7" stroke="#404040" stroke-width="1.5" stroke-opacity="0.75"/>
<line x1="1247.9" y1="877.7" x2="1243.4" y2="877.7" stroke="#404040" stroke-width="1.5" stroke-opacity="0.75"/>
<line x1="115.9" y1="867.8" x2="120.4" y2="867.8" stroke="#404040" stroke-width="1.5" stroke-opacity="0.75"/>
<line x1="1247.9" y1="867.8" x2="1243.4" y2="867.8" stroke="#404040" stroke-width="1.5" stroke-opacity="0.75"/>
<line x1="115.9" y1="860.1" x2="120.4" y2="860.1" stroke="#404040" stroke-width="1.5" stroke-opacity="0.75"/>
<line x1="1247.9" y1="860.1" x2="1243.4" y2="860.1" stroke="#404040" stroke-width="1.5" stroke-opacity="0.75"/>
<line x1="115.9" y1="853.8" x2="120.4" y2="853.8" stroke="#404040" stroke-width="1.5" stroke-opacity="0.75"/>
<line x1="1247.9" y1="853.8" x2="1243.4" y2="853.8" stroke="#404040" stroke-width="1.5" stroke-opacity="0.75"/>
<line x1="115.9" y1="848.5" x2="120.4" y2="848.5" stroke="#404040" stroke-width="1.5" stroke-opacity="0.75"/>
<line x1="1247.9" y1="848.5" x2="1243.4" y2="848.5" stroke="#404040" stroke-width="1.5" stroke-opacity="0.75"/>
<line x1="115.9" y1="843.9" x2="120.4" y2="843.9" stroke="#404040" stroke-width="1.5" stroke-opacity="0.75"/>
<line x1="1247.9" y1="843.9" x2="1243.4" y2="843.9" stroke="#404040" stroke-width="1.5" stroke-opacity="0.75"/>
<line x1="115.9" y1="839.9" x2="120.4" y2="839.9" stroke="#404040" stroke-width="1.5" stroke-opacity="0.75"/>
<line x1="1247.9" y1="839.9" x2="1243.4" y2="839.9" stroke="#404040" stroke-width="1.5" stroke-opacity="0.75"/>
<line x1="115.9" y1="836.3" x2="126.9" y2="836.3" stroke="#404040" stroke-width="1.5" stroke-opacity="0.75"/>
<line x1="1247.9" y1="836.3" x2="1236.9" y2="836.3" stroke="#404040" stroke-width="1.5" stroke-opacity="0.75"/>
<line x1="115.9" y1="812.4" x2="120.4" y2="812.4" stroke="#404040" stroke-width="1.5" stroke-opacity="0.75"/>
<line x1="1247.9" y1="812.4" x2="1243.4" y2="812.4" stroke="#404040" stroke-width="1.5" stroke-opacity="0.75"/>
<line x1="115.9" y1="798.5" x2="120.4" y2="798.5" stroke="#404040" stroke-width="1.5" stroke-opacity="0.75"/>
<line x1="1247.9" y1="798.5" x2="1243.4" y2="798.5" stroke="#404040" stroke-width="1.5" stroke-opacity="0.75"/>
<line x1="115.9" y1="788.6" x2="120.4" y2="788.6" stroke="#404040" stroke-width="1.5" stroke-opacity="0.75"/>
<line x1="1247.9" y1="788.6" x2="1243.4" y2="788.6" stroke="#404040" stroke-width="1.5" stroke-opacity="0.75"/>
<line x1="115.9" y1="780.9" x2="120.4" y2="780.9" stroke="#404040" stroke-width="1.5" stroke-opacity="0.75"/>
<line x1="1247.9" y1="780.9" x2="1243.4" y2="780.9" stroke="#404040" stroke-width="1.5" stroke-opacity="0.75"/>
<line x1="115.9" y1="774.6" x2="120.4" y2="774.6" stroke="#404040" stroke-width="1.5" stroke-opacity="0.75"/>
<line x1="1247.9" y1="774.6" x2="1243.4" y2="774.6" stroke="#404040" stroke-width="1.5" stroke-opacity="0.75"/>
<line x1="115.9" y1="769.3" x2="120.4" y2="769.3" stroke="#404040" stroke-width="1.5" stroke-opacity="0.75"/>
<line x1="1247.9" y1="769.3" x2="1243.4" y2="769.3" stroke="#404040" stroke-width="1.5" stroke-opacity="0.75"/>
<line x1="115.9" y1="764.7" x2="120.4" y2="764.7" stroke="#404040" stroke-width="1.5" stroke-opacity="0.75"/>
<line x1="1247.9" y1="764.7" x2="1243.4" y2="764.7" stroke="#404040" stroke-width="1.5" stroke-opacity="0.75"/>
<line x1="115.9" y1="760.7" x2="120.4" y2="760.7" stroke="#404040" stroke-width="1.5" stroke-opacity="0.75"/>
<line x1="1247.9" y1="760.7" x2="1243.4" y2="760.7" stroke="#404040" stroke-width="1.5" stroke-opacity="0.75"/>
<line x1="115.9" y1="757.0" x2="120.9" y2="757.0" stroke="#404040" stroke-width="1.5" stroke-opacity="0.75"/>
<line x1="1247.9" y1="757.0" x2="1242.9" y2="757.0" stroke="#404040" stroke-width="1.5" stroke-opacity="0.75"/>
<line x1="115.9" y1="733.2" x2="120.4" y2="733.2" stroke="#404040" stroke-width="1.5" stroke-opacity="0.75"/>
<line x1="1247.9" y1="733.2" x2="1243.4" y2="733.2" stroke="#404040" stroke-width="1.5" stroke-opacity="0.75"/>
<line x1="115.9" y1="719.2" x2="120.4" y2="719.2" stroke="#404040" stroke-width="1.5" stroke-opacity="0.75"/>
<line x1="1247.9" y1="719.2" x2="1243.4" y2="719.2" stroke="#404040" stroke-width="1.5" stroke-opacity="0.75"/>
<line x1="115.9" y1="709.3" x2="120.4" y2="709.3" stroke="#404040" stroke-width="1.5" stroke-opacity="0.75"/>
<line x1="1247.9" y1="709.3" x2="1243.4" y2="709.3" stroke="#404040" stroke-width="1.5" stroke-opacity="0.75"/>
<line x1="115.9" y1="701.7" x2="120.4" y2="701.7" stroke="#404040" stroke-width="1.5" stroke-opacity="0.75"/>
<line x1="1247.9" y1="701.7" x2="1243.4" y2="701.7" stroke="#404040" stroke-width="1.5" stroke-opacity="0.75"/>
<line x1="115.9" y1="695.4" x2="120.4" y2="695.4" stroke="#404040" stroke-width="1.5" stroke-opacity="0.75"/>
<line x1="1247.9" y1="695.4" x2="1243.4" y2="695.4" stroke="#404040" stroke-width="1.5" stroke-opacity="0.75"/>
<line x1="115.9" y1="690.1" x2="120.4" y2="690.1" stroke="#404040" stroke-width="1.5" stroke-opacity="0.75"/>
<line x1="1247.9" y1="690.1" x2="1243.4" y2="690.1" stroke="#404040" stroke-width="1.5" stroke-opacity="0.75"/>
<line x1="115.9" y1="685.5" x2="120.4" y2="685.5" stroke="#404040" stroke-width="1.5" stroke-opacity="0.75"/>
<line x1="1247.9" y1="685.5" x2="1243.4" y2="685.5" stroke="#404040" stroke-width="1.5" stroke-opacity="0.75"/>
<line x1="115.9" y1="681.4" x2="120.4" y2="681.4" stroke="#404040" stroke-width="1.5" stroke-opacity="0.75"/>
<line x1="1247.9" y1="681.4" x2="1243.4" y2="681.4" stroke="#404040" stroke-width="1.5" stroke-opacity="0.75"/>
<rect x="115.9" y="677.2" width="1132.0" height="237.7" fill="none" stroke="#5a5a5a" stroke-width="2.6" stroke-opacity="0.5"/>
<text x="86.7" y="958.3" font-size="32.6" textLength="56.3" lengthAdjust="spacingAndGlyphs" fill="#0a0a0a" stroke="#0a0a0a" stroke-width="0.85">700</text>
<text x="261.2" y="958.3" font-size="32.6" textLength="56.3" lengthAdjust="spacingAndGlyphs" fill="#0a0a0a" stroke="#0a0a0a" stroke-width="0.85">800</text>
<text x="435.7" y="958.3" font-size="32.6" textLength="56.3" lengthAdjust="spacingAndGlyphs" fill="#0a0a0a" stroke="#0a0a0a" stroke-width="0.85">900</text>
<text x="600.7" y="958.3" font-size="32.6" textLength="75.1" lengthAdjust="spacingAndGlyphs" fill="#0a0a0a" stroke="#0a0a0a" stroke-width="0.85">1000</text>
<text x="775.2" y="958.3" font-size="32.6" textLength="75.1" lengthAdjust="spacingAndGlyphs" fill="#0a0a0a" stroke="#0a0a0a" stroke-width="0.85">1100</text>
<text x="949.7" y="958.3" font-size="32.6" textLength="75.1" lengthAdjust="spacingAndGlyphs" fill="#0a0a0a" stroke="#0a0a0a" stroke-width="0.85">1200</text>
<text x="1124.2" y="958.3" font-size="32.6" textLength="75.1" lengthAdjust="spacingAndGlyphs" fill="#0a0a0a" stroke="#0a0a0a" stroke-width="0.85">1300</text>
<text x="88.5" y="698.5" font-size="32.6" text-anchor="end" fill="#0a0a0a" stroke="#0a0a0a" stroke-width="0.85">10</text>
<text x="87.5" y="682.7" font-size="26.5" text-anchor="start" fill="#0a0a0a" stroke="#0a0a0a" stroke-width="0.7">0</text>
<text x="79" y="853.8" font-size="32.6" text-anchor="end" fill="#0a0a0a" stroke="#0a0a0a" stroke-width="0.85">10</text>
<text x="78" y="840.1" font-size="26.5" text-anchor="start" fill="#0a0a0a" stroke="#0a0a0a" stroke-width="0.7">-2</text>
<text transform="translate(28.2,794.9) rotate(-90)" font-size="34" text-anchor="middle" fill="#0a0a0a" stroke="#0a0a0a" stroke-width="0.8">Intensity (a.u.)</text>
<text x="141" y="729.0" font-size="38.3" textLength="41.5" lengthAdjust="spacingAndGlyphs" fill="#000" stroke="#000" stroke-width="1.35">(<tspan dy="1.7">c</tspan><tspan dy="-1.7">)</tspan></text>
<text x="1056.2" y="731" font-size="36" textLength="164.3" lengthAdjust="spacingAndGlyphs" fill="#c8a226" stroke="#c8a226" stroke-width="0.7">408.1 nm</text>
<text x="679" y="1000.5" font-size="33.3" text-anchor="middle" fill="#0a0a0a" stroke="#0a0a0a" stroke-width="0.8">Wavelength (nm)</text>
</g>
</svg></body></html>
